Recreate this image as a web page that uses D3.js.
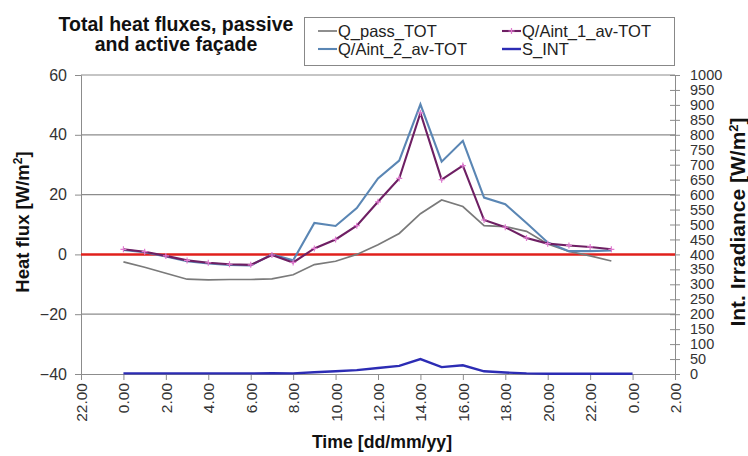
<!DOCTYPE html>
<html><head><meta charset="utf-8">
<script src="https://cdn.jsdelivr.net/npm/d3@7"></script>
<style>
body{margin:0;background:#fff;}
svg{display:block;font-family:Arial,"Liberation Sans",sans-serif;}
</style></head>
<body><svg id="c" width="748" height="456"></svg>
<script>
const hours = [0,1,2,3,4,5,6,7,8,9,10,11,12,13,14,15,16,17,18,19,20,21,22,23];
const qPass = [-2.5,-4.3,-6.3,-8.3,-8.5,-8.4,-8.4,-8.2,-6.8,-3.4,-2.3,0,3.2,7,13.6,18.2,16,9.6,9.3,7.7,3.5,1,-0.5,-2.2];
const qAint1 = [1.7,0.9,-0.5,-2,-2.8,-3.3,-3.5,-0.2,-2.7,2,5,9.6,17.6,25.4,47.3,25,29.7,11.5,9.1,5.5,3.6,3,2.5,1.7];
const qAint2 = [1.5,0.7,-0.7,-2.3,-3,-3.5,-3.7,0,-2,10.5,9.5,15.5,25.4,31.4,50.2,31,38,19,16.8,10.5,4,1.1,1.1,1.3];
const sHours = [0,1,2,3,4,5,6,7,8,9,10,11,12,13,14,15,16,17,18,19,20,21,22,23,24];
const sInt = [2,2,2,2,2,2,2,3,2,6,9,13,20,27,50,23,29,9,5,2,1,1,1,1,1];
const xTicks = [-2,0,2,4,6,8,10,12,14,16,18,20,22,24,26];
const yLeftTicks = [-40,-20,0,20,40,60];
const yRightTicks = d3.range(0,1001,50);

const FONT = "Arial,'Liberation Sans',sans-serif";
const svg = d3.select("#c");
const L=81, R=675, T=75, B=374;
const x = d3.scaleLinear().domain([-2,26]).range([L,R]);
const y = d3.scaleLinear().domain([-40,60]).range([B,T]);
const y2 = d3.scaleLinear().domain([0,1000]).range([B,T]);

// gridlines
svg.append("g").selectAll("line").data(yLeftTicks.filter(d=>d!==-40 && d!==0)).join("line")
  .attr("x1",L).attr("x2",R).attr("y1",d=>y(d)).attr("y2",d=>y(d))
  .attr("stroke","#8c8c8c").attr("stroke-width",1.2);

// left axis
const gl = svg.append("g").attr("transform",`translate(${L},0)`)
  .call(d3.axisLeft(y).tickValues(yLeftTicks).tickSize(6).tickPadding(8));
gl.select(".domain").attr("stroke","#8c8c8c");
gl.selectAll(".tick line").attr("stroke","#8c8c8c");
gl.selectAll("text").attr("font-size",16).attr("fill","#333").attr("font-family",FONT);

// right axis
const gr = svg.append("g").attr("transform",`translate(${R},0)`)
  .call(d3.axisRight(y2).tickValues(yRightTicks).tickSize(5).tickPadding(10).tickFormat(d3.format("d")));
gr.select(".domain").attr("stroke","#8c8c8c");
gr.selectAll(".tick line").attr("stroke","#8c8c8c").attr("x1",-5);
gr.selectAll("text").attr("font-size",14.5).attr("fill","#333").attr("font-family",FONT);

// bottom axis
const gb = svg.append("g").attr("transform",`translate(0,${B})`)
  .call(d3.axisBottom(x).tickValues(xTicks).tickSize(6).tickPadding(4)
  .tickFormat(d=>(((d%24)+24)%24)+".00"));
gb.select(".domain").attr("stroke","#8c8c8c");
gb.selectAll(".tick line").attr("stroke","#8c8c8c");
gb.selectAll("text").attr("font-size",15.5).attr("fill","#333").attr("font-family",FONT)
  .attr("transform","rotate(-90)").attr("text-anchor","end").attr("dy","0.35em").attr("x",-9).attr("y",0);

// zero red line
svg.append("line").attr("x1",L).attr("x2",R).attr("y1",y(0)).attr("y2",y(0))
  .attr("stroke","#e0201c").attr("stroke-width",2.5);

const line = d3.line().x((d,i)=>x(hours[i])).y(d=>y(d));
svg.append("path").attr("d",line(qPass)).attr("fill","none").attr("stroke","#7a7a7a").attr("stroke-width",1.7);
svg.append("path").attr("d",line(qAint2)).attr("fill","none").attr("stroke","#5a86b4").attr("stroke-width",2.1);
svg.append("path").attr("d",line(qAint1)).attr("fill","none").attr("stroke","#6e1f63").attr("stroke-width",2.1);
// markers
svg.append("g").selectAll("path").data(qAint1).join("path")
  .attr("d",(d,i)=>{const cx=x(hours[i]),cy=y(d);return `M${cx-3},${cy}H${cx+3}M${cx},${cy-3}V${cy+3}`;})
  .attr("stroke","#e07ad0").attr("stroke-width",1.2);
const sline = d3.line().x((d,i)=>x(sHours[i])).y(d=>y2(d));
svg.append("path").attr("d",sline(sInt)).attr("fill","none").attr("stroke","#2c2cb4").attr("stroke-width",2.4);

// title
const title = svg.append("text").attr("font-weight","bold").attr("font-size",19.5).attr("text-anchor","middle").attr("fill","#111");
title.append("tspan").attr("x",176).attr("y",31).text("Total heat fluxes, passive");
title.append("tspan").attr("x",176).attr("y",51).text("and active façade");

// axis titles
svg.append("text").attr("transform","translate(29,222) rotate(-90)").attr("text-anchor","middle")
  .attr("font-weight","bold").attr("font-size",18.5).attr("fill","#111")
  .html('Heat flux [W/m<tspan baseline-shift="super" font-size="12">2</tspan>]');
svg.append("text").attr("transform","translate(745,222) rotate(-90)").attr("text-anchor","middle")
  .attr("font-weight","bold").attr("font-size",21).attr("fill","#111")
  .html('Int. Irradiance [W/m<tspan baseline-shift="super" font-size="13">2</tspan>]');
svg.append("text").attr("x",382).attr("y",448).attr("text-anchor","middle")
  .attr("font-weight","bold").attr("font-size",17.7).attr("fill","#111").text("Time [dd/mm/yy]");

// legend
const lg = svg.append("g");
lg.append("rect").attr("x",304.5).attr("y",17.5).attr("width",370).attr("height",48)
  .attr("fill","#fff").attr("stroke","#888");
const legendItems = [
  {name:"Q_pass_TOT", color:"#7a7a7a", w:1.7, lx:318, ly:31},
  {name:"Q/Aint_1_av-TOT", color:"#6e1f63", w:2.1, lx:502, ly:31, marker:true},
  {name:"Q/Aint_2_av-TOT", color:"#5a86b4", w:2.1, lx:318, ly:49},
  {name:"S_INT", color:"#2c2cb4", w:2.4, lx:502, ly:49}
];
legendItems.forEach(it=>{
  lg.append("line").attr("x1",it.lx).attr("x2",it.lx+19).attr("y1",it.ly).attr("y2",it.ly)
    .attr("stroke",it.color).attr("stroke-width",it.w);
  if(it.marker){
    const cx=it.lx+9.5, cy=it.ly;
    lg.append("path").attr("d",`M${cx-3},${cy}H${cx+3}M${cx},${cy-3}V${cy+3}`).attr("stroke","#e07ad0").attr("stroke-width",1.2);
  }
  lg.append("text").attr("x",it.lx+20).attr("y",it.ly).attr("dy","0.35em").attr("font-size",16.5).attr("fill","#222").text(it.name);
});
</script>
</body></html>
